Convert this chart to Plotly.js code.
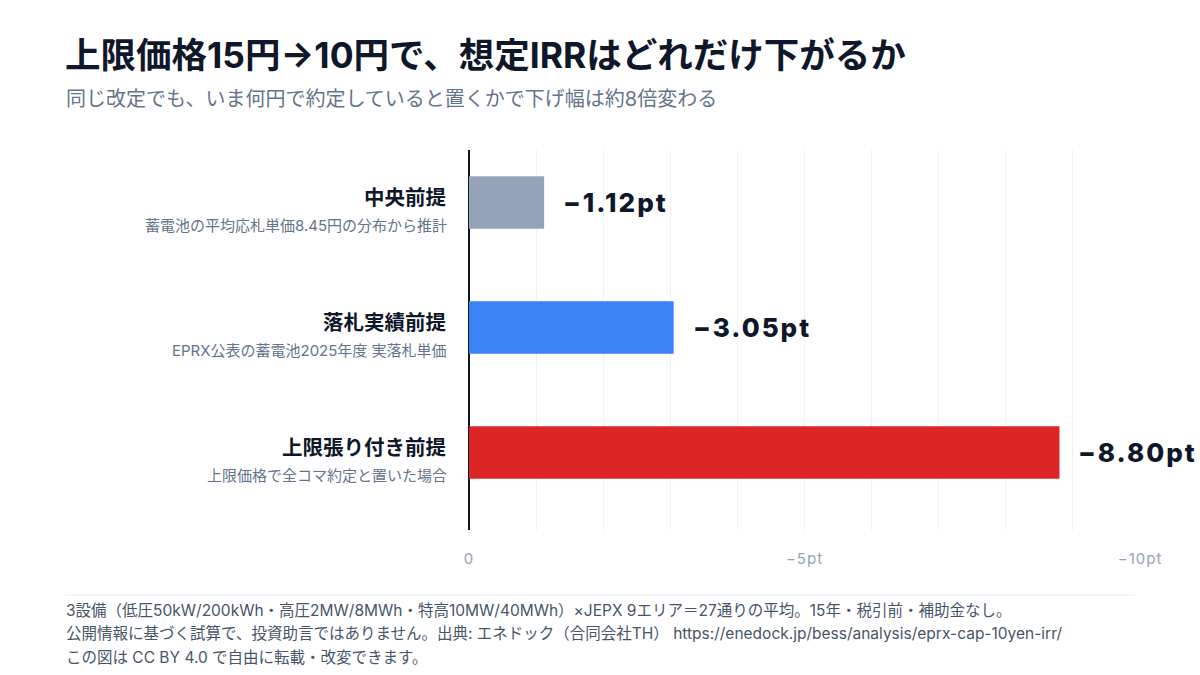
<!DOCTYPE html>
<html>
<head>
<meta charset="utf-8">
<script src="https://cdn.plot.ly/plotly-3.0.1.min.js"></script>
<style>
  html, body { margin: 0; padding: 0; background: #fff; }
  #chart { width: 1200px; height: 675px; }
</style>
</head>
<body>
<div id="chart"></div>
<script>
// data
const scenarios = ['中央前提', '落札実績前提', '上限張り付き前提'];
const notes = ['蓄電池の平均応札単価8.45円の分布から推計', 'EPRX公表の蓄電池2025年度 実落札単価', '上限価格で全コマ約定と置いた場合'];
const irrDrop = [-1.12, -3.05, -8.80];
const barColors = ['#94a3b8', '#3b82f6', '#dc2626'];
const xTickVals = [0, -5, -10];
const xTickText = ['0', '−5pt', '−10pt'];
const footLines = [
    '3設備（低圧50kW/200kWh・高圧2MW/8MWh・特高10MW/40MWh）×JEPX 9エリア＝27通りの平均。15年・税引前・補助金なし。',
    '公開情報に基づく試算で、投資助言ではありません。出典: エネドック（合同会社TH） https://enedock.jp/bess/analysis/eprx-cap-10yen-irr/',
    'この図は CC BY 4.0 で自由に転載・改変できます。'
];

const FONT = 'Inter, "Noto Sans CJK JP", sans-serif';

// plot area in px, used to place things outside it
const plotLeft = 469, plotRight = 1140, plotTop = 150, plotBottom = 530;
const px = x => (x - plotLeft) / (plotRight - plotLeft);
const py = y => (plotBottom - y) / (plotBottom - plotTop);

const spaced = (t, ls) => `<span style="letter-spacing:${ls}px">${t}</span>`;

const trace = {
    type: 'bar',
    orientation: 'h',
    x: irrDrop,
    y: scenarios,
    width: 0.42,
    marker: { color: barColors },
    hoverinfo: 'skip'
};

let annotations = [
    {
        text: '<b>上限価格15円→10円で、想定IRRはどれだけ下がるか</b>',
        xref: 'paper', yref: 'paper', x: px(63), y: py(56),
        xanchor: 'left', yanchor: 'middle', showarrow: false,
        font: { family: FONT, size: 35.5, color: '#0f172a', weight: 900 }
    },
    {
        text: '同じ改定でも、いま何円で約定していると置くかで下げ幅は約8倍変わる',
        xref: 'paper', yref: 'paper', x: px(64), y: py(99),
        xanchor: 'left', yanchor: 'middle', showarrow: false,
        font: { family: FONT, size: 20, color: '#64748b' }
    }
];

// category name + note to the left of each bar
scenarios.forEach((s, i) => {
    annotations.push({
        text: '<b>' + s + '</b>',
        xref: 'paper', yref: 'y', x: 0, y: s,
        xanchor: 'right', yanchor: 'middle', xshift: -20, yshift: 5,
        showarrow: false,
        font: { family: FONT, size: 20.5, color: '#0f172a' }
    });
    annotations.push({
        text: notes[i],
        xref: 'paper', yref: 'y', x: 0, y: s,
        xanchor: 'right', yanchor: 'middle', xshift: -20, yshift: -23,
        showarrow: false,
        font: { family: FONT, size: 15, color: '#64748b' }
    });
    // value label at the end of the bar
    annotations.push({
        text: spaced('−' + Math.abs(irrDrop[i]).toFixed(2) + 'pt', 2),
        xref: 'x', yref: 'y', x: irrDrop[i], y: s,
        xanchor: 'left', yanchor: 'middle', xshift: 17, yshift: 0,
        showarrow: false,
        font: { family: FONT, size: 26, color: '#0f172a', weight: 800 }
    });
});

footLines.forEach((line, i) => {
    annotations.push({
        text: line,
        xref: 'paper', yref: 'paper', x: px(64), y: py(610 + i * 23.5),
        xanchor: 'left', yanchor: 'middle', showarrow: false,
        font: { family: FONT, size: 15.5, color: '#475569' }
    });
});

const layout = {
    width: 1200,
    height: 675,
    margin: { l: plotLeft, r: 1200 - plotRight, t: plotTop, b: 675 - plotBottom, pad: 0 },
    paper_bgcolor: '#ffffff',
    plot_bgcolor: '#ffffff',
    font: { family: FONT, color: '#0f172a' },
    showlegend: false,
    xaxis: {
        range: [0, -10],
        tickvals: xTickVals,
        ticktext: xTickText.map(t => spaced(t, 1)),
        tickfont: { family: FONT, size: 15, color: '#94a3b8' },
        ticks: '',
        ticklabelstandoff: 18,
        showgrid: true,
        gridcolor: '#eef1f5',
        gridwidth: 1,
        minor: { dtick: 1, showgrid: true, gridcolor: '#eef1f5', gridwidth: 1 },
        zeroline: true,
        zerolinecolor: '#0f172a',
        zerolinewidth: 2,
        showline: false,
        fixedrange: true
    },
    yaxis: {
        range: [2.62, -0.42],
        showticklabels: false,
        ticks: '',
        showgrid: false,
        zeroline: false,
        showline: false,
        fixedrange: true
    },
    shapes: [
        {
            type: 'line', xref: 'paper', yref: 'paper',
            x0: px(65), x1: px(1135), y0: py(595), y1: py(595),
            line: { color: '#e8ecf1', width: 1 }
        }
    ],
    annotations: annotations
};

Plotly.newPlot('chart', [trace], layout, { displayModeBar: false, staticPlot: true });
</script>
</body>
</html>
